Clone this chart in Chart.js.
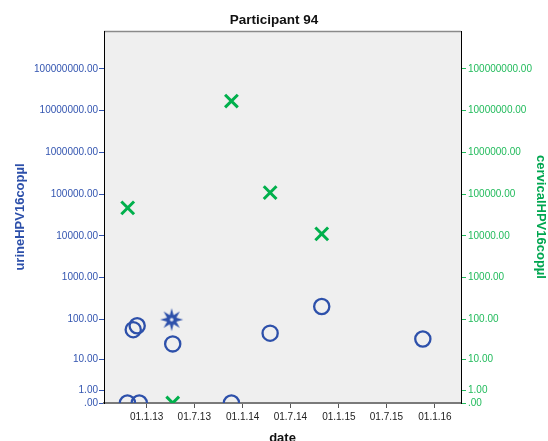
<!DOCTYPE html>
<html>
<head>
<meta charset="utf-8">
<script src="https://cdn.jsdelivr.net/npm/chart.js@4.4.1/dist/chart.umd.min.js"></script>
<style>
  html, body { margin:0; padding:0; background:#fff; }
  #wrap { width:548px; height:441px; }
</style>
</head>
<body>
<div id="wrap"><canvas id="chart" width="548" height="441"></canvas></div>
<script>
// ---- DATA ----
const chartTitle = 'Participant 94';

const urineDates  = ['2012-10-20','2012-11-11','2012-11-26','2012-12-04','2013-04-06','2013-04-10','2013-11-19','2014-04-15','2014-10-28','2015-11-16'];
const urineValues = [0, 56, 70, 0, 98, 25, 0, 46, 204, 33];

const cervicalDates  = ['2012-10-21','2013-04-10','2013-11-19','2014-04-15','2014-10-28'];
const cervicalValues = [47000, 0, 17000000, 109000, 11200];

const yTickValues = [0, 1, 10, 100, 1000, 10000, 100000, 1000000, 10000000, 100000000];
const xTickDates  = ['2013-01-01','2013-07-01','2014-01-01','2014-07-01','2015-01-01','2015-07-01','2016-01-01'];
const xMinDate = '2012-07-23';
const xMaxDate = '2016-04-09';
const yMaxValue = 8.1e8;

const STAR_INDEX = 4; // the point SPSS draws as a star

// ---- STYLE ----
const FONT = "Arial, 'Liberation Sans', sans-serif";
const BLUE = '#2d50aa';
const BLUE_TEXT = '#3355b0';
const GREEN = '#00b04c';
const GREEN_TEXT = '#22bb5c';

const toMs = s => Date.parse(s + 'T00:00:00Z');

// safe log scale: position = log10(1 + value), so 0 sits at the bottom
class SafeLogScale extends Chart.LinearScale {
  determineDataLimits() {
    this.min = 0;
    this.max = Math.log10(1 + yMaxValue);
  }
  buildTicks() {
    return yTickValues.map(v => ({ value: v }));
  }
  getPixelForValue(value) {
    if (value === null || value === undefined) return NaN;
    return super.getPixelForValue(Math.log10(1 + value));
  }
  getValueForPixel(pixel) {
    return Math.pow(10, super.getValueForPixel(pixel)) - 1;
  }
}
SafeLogScale.id = 'safelog';
SafeLogScale.defaults = Chart.LinearScale.defaults;
Chart.register(SafeLogScale);

// star marker
function makeStar() {
  const c = document.createElement('canvas');
  c.width = 26; c.height = 26;
  const g = c.getContext('2d');
  const cx = 13, cy = 13, rOut = 11.5, rIn = 5;
  g.beginPath();
  for (let i = 0; i < 16; i++) {
    const r = i % 2 === 0 ? rOut : rIn;
    const a = -Math.PI / 2 + i * Math.PI / 8;
    const x = cx + r * Math.cos(a), y = cy + r * Math.sin(a);
    if (i === 0) g.moveTo(x, y); else g.lineTo(x, y);
  }
  g.closePath();
  g.fillStyle = BLUE;
  g.fill();
  g.beginPath();
  g.arc(cx, cy, 1.8, 0, Math.PI * 2);
  g.fillStyle = '#e8ecf6';
  g.fill();
  return c;
}
const starImg = makeStar();

const plotBg = {
  id: 'plotBg',
  beforeDraw(chart) {
    const { ctx, chartArea: a } = chart;
    ctx.save();
    ctx.fillStyle = '#efefef';
    ctx.fillRect(a.left, a.top, a.right - a.left, a.bottom - a.top);
    ctx.strokeStyle = '#8a8a8a';
    ctx.lineWidth = 1.5;
    ctx.beginPath();
    ctx.moveTo(a.left, a.top + 0.5);
    ctx.lineTo(a.right, a.top + 0.5);
    ctx.stroke();
    ctx.restore();
  }
};

function fmtY(v) {
  return v.toFixed(2).replace(/^0\./, '.');
}
function fmtX(v) {
  const d = new Date(v);
  return String(d.getUTCDate()).padStart(2, '0') + '.' + (d.getUTCMonth() + 1) + '.' + String(d.getUTCFullYear()).slice(2);
}

new Chart(document.getElementById('chart'), {
  type: 'scatter',
  data: {
    datasets: [
      {
        label: 'urineHPV16copµl',
        data: urineDates.map((d, i) => ({ x: toMs(d), y: urineValues[i] })),
        xAxisID: 'x',
        yAxisID: 'y',
        pointStyle: ctx => ctx.dataIndex === STAR_INDEX ? starImg : 'circle',
        pointRadius: 7.6,
        pointBorderWidth: 2.3,
        pointBorderColor: BLUE,
        pointBackgroundColor: 'rgba(0,0,0,0)',
        clip: 0
      },
      {
        label: 'cervicalHPV16copµl',
        data: cervicalDates.map((d, i) => ({ x: toMs(d), y: cervicalValues[i] })),
        xAxisID: 'x',
        yAxisID: 'y2',
        pointStyle: 'crossRot',
        pointRadius: 9,
        pointBorderWidth: 3,
        pointBorderColor: GREEN,
        pointBackgroundColor: GREEN,
        clip: 0
      }
    ]
  },
  options: {
    responsive: false,
    animation: false,
    events: [],
    layout: { padding: 0 },
    plugins: {
      legend: { display: false },
      tooltip: { enabled: false },
      title: {
        display: true,
        text: chartTitle,
        color: '#111',
        font: { family: FONT, size: 13.5, weight: 'bold', lineHeight: 1.2 },
        padding: { top: 11.8, bottom: 3 }
      }
    },
    scales: {
      x: {
        type: 'linear',
        position: 'bottom',
        min: toMs(xMinDate),
        max: toMs(xMaxDate),
        afterBuildTicks: s => { s.ticks = xTickDates.map(d => ({ value: toMs(d) })); },
        afterFit: s => { s.height = 38; },
        border: { display: true, color: '#7a7a7a', width: 2 },
        grid: { drawOnChartArea: false, drawTicks: true, tickLength: 5, tickColor: '#555', tickWidth: 1 },
        ticks: { autoSkip: false, maxRotation: 0, padding: 3, color: '#222', font: { family: FONT, size: 10 }, callback: fmtX },
        title: {
          display: true,
          text: 'date',
          color: '#111',
          font: { family: FONT, size: 13, weight: 'bold', lineHeight: 0.4 },
          padding: 0
        }
      },
      y: {
        type: 'safelog',
        position: 'left',
        afterFit: s => { s.width = 104; },
        border: { display: true, color: '#000', width: 1 },
        grid: { drawOnChartArea: false, drawTicks: true, tickLength: 5, tickColor: BLUE_TEXT, tickWidth: 1 },
        ticks: { autoSkip: false, padding: 1, color: BLUE_TEXT, font: { family: FONT, size: 10 }, callback: fmtY },
        title: {
          display: true,
          text: 'urineHPV16copµl',
          color: BLUE,
          font: { family: FONT, size: 13, weight: 'bold', lineHeight: 1.2 },
          padding: { top: 13, bottom: 0 }
        }
      },
      y2: {
        type: 'safelog',
        position: 'right',
        afterFit: s => { s.width = 87; },
        border: { display: true, color: '#000', width: 1 },
        grid: { drawOnChartArea: false, drawTicks: true, tickLength: 5, tickColor: GREEN_TEXT, tickWidth: 1 },
        ticks: { autoSkip: false, padding: 2, color: GREEN_TEXT, font: { family: FONT, size: 10 }, callback: fmtY },
        title: {
          display: true,
          text: 'cervicalHPV16copµl',
          color: '#00a650',
          font: { family: FONT, size: 13, weight: 'bold', lineHeight: 1.2 },
          padding: { top: 0, bottom: 0 }
        }
      }
    }
  },
  plugins: [plotBg]
});
</script>
</body>
</html>
